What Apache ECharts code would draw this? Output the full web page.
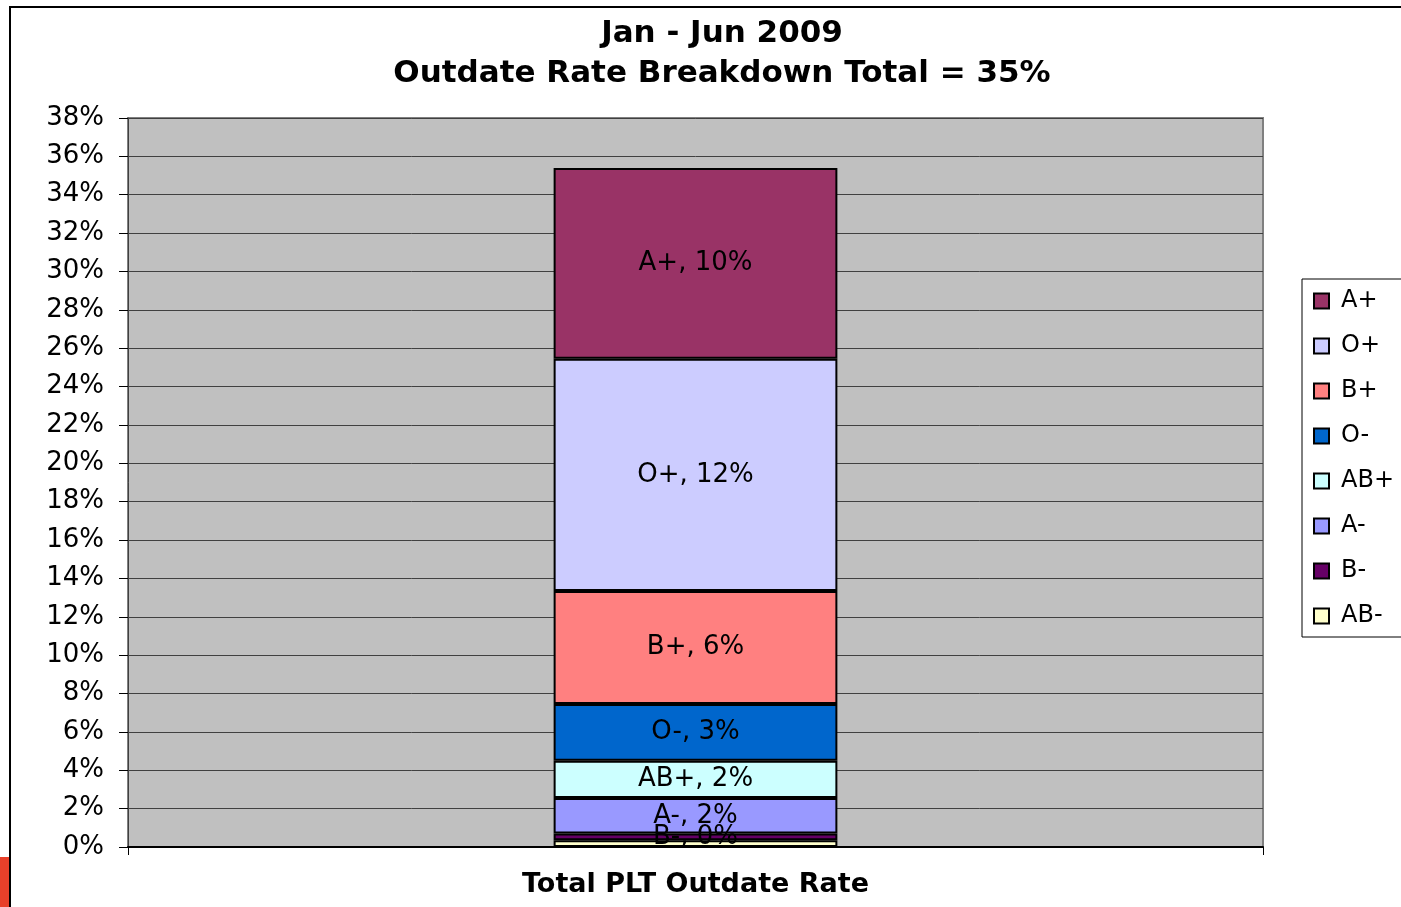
<!DOCTYPE html>
<html>
<head>
<meta charset="utf-8">
<title>Outdate Rate Breakdown</title>
<script src="https://cdn.jsdelivr.net/npm/echarts@6/dist/echarts.min.js"></script>
<style>
  html, body { margin: 0; padding: 0; background: #fff; }
  #chart { width: 1401px; height: 907px; }
</style>
</head>
<body>
<div id="chart"></div>
<script>
// stack order, bottom to top
var groups = ['AB-', 'B-', 'A-', 'AB+', 'O-', 'B+', 'O+', 'A+'];
var rates = [0.35, 0.35, 1.85, 1.95, 2.95, 5.9, 12.1, 9.95];
var colors = ['#FFFFCC', '#660066', '#9999FF', '#CCFFFF', '#0066CC', '#FF8080', '#CCCCFF', '#993366'];
var categories = ['Total PLT Outdate Rate'];
var hideLabel = ['AB-'];

var font = 'DejaVu Sans';
var chart = echarts.init(document.getElementById('chart'));

var series = groups.map(function (g, i) {
    return {
        name: g,
        type: 'bar',
        stack: 'total',
        barWidth: '25%',
        data: [rates[i]],
        itemStyle: { color: colors[i], borderColor: '#000', borderWidth: 2 },
        label: {
            show: hideLabel.indexOf(g) < 0,
            position: 'inside',
            color: '#000',
            fontFamily: font,
            fontSize: 26,
            formatter: function (p) {
                return p.seriesName + ', ' + Math.round(p.value) + '%';
            }
        }
    };
});

var option = {
    backgroundColor: '#fff',
    animation: false,
    title: {
        text: 'Jan - Jun 2009\nOutdate Rate Breakdown Total = 35%',
        left: 717,
        textAlign: 'center',
        top: 9,
        textStyle: {
            fontFamily: font,
            fontWeight: 'bold',
            fontSize: 31,
            lineHeight: 40,
            color: '#000'
        }
    },
    legend: {
        orient: 'vertical',
        left: 1302,
        top: 279,
        data: groups.slice().reverse(),
        itemWidth: 15,
        itemHeight: 15,
        itemGap: 21,
        padding: [10, 30, 9, 11],
        borderColor: '#000',
        borderWidth: 1,
        backgroundColor: '#fff',
        textStyle: { fontFamily: font, fontSize: 24, color: '#000', padding: [0, 0, 0, 7] },
        icon: 'rect'
    },
    grid: {
        left: 128,
        right: 138,
        top: 118,
        bottom: 60,
        show: true,
        backgroundColor: '#C0C0C0',
        borderColor: '#808080',
        borderWidth: 2
    },
    xAxis: {
        type: 'category',
        data: categories,
        axisLine: { lineStyle: { color: '#000', width: 2 } },
        axisTick: { show: true, length: 8, lineStyle: { color: '#000' } },
        axisLabel: {
            margin: 24,
            color: '#000',
            fontFamily: font,
            fontWeight: 'bold',
            fontSize: 27
        }
    },
    yAxis: {
        type: 'value',
        min: 0,
        max: 38,
        interval: 2,
        axisLine: { show: true, lineStyle: { color: '#404040', width: 1 } },
        axisTick: { show: true, length: 9, lineStyle: { color: '#000' } },
        splitLine: { lineStyle: { color: '#404040', width: 1 } },
        axisLabel: {
            margin: 24,
            color: '#000',
            fontFamily: font,
            fontSize: 26,
            formatter: '{value}%'
        }
    },
    graphic: [
        {
            type: 'rect',
            shape: { x: 10, y: 7, width: 1500, height: 1000 },
            style: { fill: null, stroke: '#000', lineWidth: 2 },
            z: -1
        },
        {
            type: 'rect',
            shape: { x: 0, y: 857, width: 9, height: 50 },
            style: { fill: '#E8402A' }
        }
    ],
    series: series
};

chart.setOption(option);
</script>
</body>
</html>
